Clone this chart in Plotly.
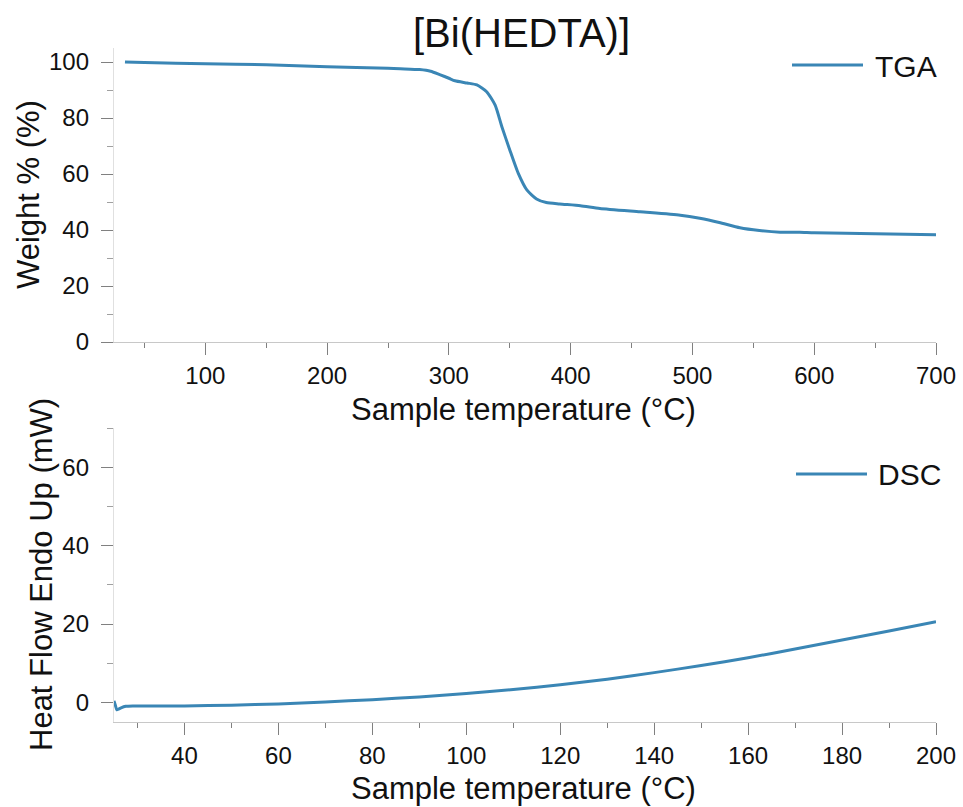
import plotly.graph_objects as go

# TGA: weight loss vs sample temperature
tga_temp = [34, 50, 100, 150, 200, 250, 260, 276, 285, 293, 300, 305, 315, 323,
            331, 338, 343.5, 350, 357, 364, 372, 380, 391, 408, 424, 457, 490,
            506, 522, 539, 555, 572, 588, 600, 650, 700]
tga_weight = [100, 99.8, 99.4, 99.0, 98.3, 97.8, 97.6, 97.3, 96.7, 95.4, 94.2, 93.3,
              92.5, 91.8, 89.4, 84.6, 76.9, 68.6, 60.2, 54.3, 51.1, 49.8, 49.3, 48.7,
              47.7, 46.5, 45.3, 44.2, 42.7, 40.8, 39.8, 39.2, 39.2, 39.0, 38.7, 38.3]

# DSC: heat flow vs sample temperature
dsc_temp = [25.0, 25.3, 25.6, 26.0, 26.5, 27.5, 29, 35, 40, 50, 60, 70, 80, 90,
            100, 110, 120, 130, 140, 150, 160, 170, 180, 190, 200]
dsc_flow = [0.4, -0.8, -1.9, -1.7, -1.4, -1.0, -0.9, -0.9, -0.9, -0.7, -0.4, 0.1,
            0.7, 1.4, 2.3, 3.3, 4.5, 5.9, 7.6, 9.4, 11.4, 13.6, 15.9, 18.2, 20.6]

LINE = "#3a86b5"
FONT = "Arial, Liberation Sans, sans-serif"
W, H = 963, 807
ML, MR = 114, 27
PW = W - ML - MR


def px_x(px):
    return (px - ML) / PW


def px_y(py):
    return (H - py) / H


fig = go.Figure()
fig.add_trace(go.Scatter(x=tga_temp, y=tga_weight, mode="lines", name="TGA",
                         line=dict(color=LINE, width=3, shape="spline", smoothing=0.6),
                         xaxis="x", yaxis="y", showlegend=False))
fig.add_trace(go.Scatter(x=dsc_temp, y=dsc_flow, mode="lines", name="DSC",
                         line=dict(color=LINE, width=3, shape="spline", smoothing=0.5),
                         xaxis="x2", yaxis="y2", showlegend=False))

axis_common = dict(showgrid=False, zeroline=False, showline=True, linewidth=1.3,
                   automargin=False,
                   ticks="outside", ticklen=12, tickwidth=1, tickcolor="#808080",
                   tickfont=dict(family=FONT, size=24, color="#111"))

fig.update_layout(
    template="none",
    width=W, height=H,
    margin=dict(l=ML, r=MR, t=0, b=0, pad=0),
    paper_bgcolor="white", plot_bgcolor="white",
    showlegend=False,
    font=dict(family=FONT, color="#111"),
    xaxis=dict(axis_common, range=[25, 700], tick0=0, dtick=100, anchor="y",
               linecolor="#c8c8c8", ticklabelstandoff=0,
               minor=dict(tick0=0, dtick=50, ticks="outside", ticklen=5,
                          tickcolor="#808080")),
    yaxis=dict(axis_common, range=[0, 105], tick0=0, dtick=20, anchor="x",
               domain=[px_y(342), px_y(48)], linecolor="#e0e0e0",
               ticklabelstandoff=7,
               minor=dict(tick0=0, dtick=10, ticks="outside", ticklen=6,
                          tickcolor="#a0a0a0")),
    xaxis2=dict(axis_common, range=[25, 200], tick0=0, dtick=20, anchor="y2",
                linecolor="#c8c8c8", ticklabelstandoff=0,
                minor=dict(tick0=0, dtick=10, ticks="outside", ticklen=5,
                           tickcolor="#808080")),
    yaxis2=dict(axis_common, range=[-5, 70], tick0=0, dtick=20, anchor="x2",
                domain=[px_y(722), px_y(428)], linecolor="#e0e0e0",
                ticklabelstandoff=7,
                minor=dict(tick0=0, dtick=10, ticks="outside", ticklen=6,
                           tickcolor="#a0a0a0")),
)

annotations = [
    dict(text="[Bi(HEDTA)]", x=px_x(521), y=px_y(33), font=dict(size=40)),
    dict(text="Sample temperature (°C)", x=px_x(523), y=px_y(410), font=dict(size=31)),
    dict(text="Sample temperature (°C)", x=px_x(523), y=px_y(788), font=dict(size=31)),
    dict(text="Weight % (%)", x=px_x(28), y=px_y(195), textangle=-90, font=dict(size=31)),
    dict(text="Heat Flow Endo Up (mW)", x=px_x(41), y=px_y(575), textangle=-90,
         font=dict(size=31)),
    dict(text="TGA", x=px_x(873), y=px_y(66), xanchor="left", font=dict(size=30)),
    dict(text="DSC", x=px_x(876), y=px_y(474), xanchor="left", font=dict(size=30)),
]
for a in annotations:
    a.setdefault("xanchor", "center")
    fig.add_annotation(xref="paper", yref="paper", yanchor="middle", showarrow=False,
                       **a)
    fig.layout.annotations[-1].font.family = FONT
    fig.layout.annotations[-1].font.color = "#111"

# legend keys
for x0, x1, y in [(792, 863, 65), (796, 867, 474)]:
    fig.add_shape(type="line", xref="paper", yref="paper",
                  x0=px_x(x0), x1=px_x(x1), y0=px_y(y), y1=px_y(y),
                  line=dict(color=LINE, width=3))

fig.write_html("out.html")
